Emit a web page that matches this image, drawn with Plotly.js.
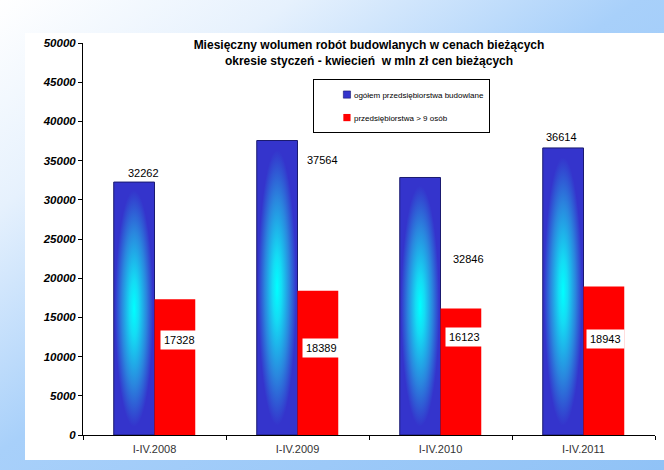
<!DOCTYPE html>
<html>
<head>
<meta charset="utf-8">
<script src="https://cdn.plot.ly/plotly-3.0.1.min.js"></script>
<style>
  html, body { margin: 0; padding: 0; }
  body {
    width: 664px; height: 470px; overflow: hidden; position: relative;
    background: linear-gradient(to bottom right, #ffffff 0%, #e6f1fd 22%, #a8d0fa 48%, #90c2f6 100%);
  }
  #chart { position: absolute; left: 25px; top: 33px; width: 639px; height: 427px; background: #ffffff; }
</style>
</head>
<body>
<div id="chart"></div>
<script>
// ---- data ----
const categories = ['I-IV.2008', 'I-IV.2009', 'I-IV.2010', 'I-IV.2011'];
const totalValues = [32262, 37564, 32846, 36614];   // ogółem przedsiębiorstwa budowlane
const largeValues = [17328, 18389, 16123, 18943];   // przedsiębiorstwa > 9 osób
const seriesNames = ['ogółem przedsiębiorstwa budowlane', 'przedsiębiorstwa > 9 osób'];
const yTicks = [0, 5000, 10000, 15000, 20000, 25000, 30000, 35000, 40000, 45000, 50000];
const titleText = 'Miesięczny wolumen robót budowlanych w cenach bieżących<br>okresie styczeń - kwiecień  w mln zł cen bieżących';

// ---- label placement (style, pixel offsets from category centre / bar top) ----
const totalLabelShift = [[-11, 9], [24.5, -19], [27.5, -82], [-22, 11]];
const largeLabelShift = [[24.5, -41], [23.5, -57], [24, -28.5], [21.5, -52.5]];

const FONT = 'Liberation Sans, Arial, sans-serif';

const traces = [
  {
    type: 'bar', name: seriesNames[0], x: categories, y: totalValues,
    legendgroup: 'a',
    marker: { color: '#3535cc', line: { color: '#1a1a70', width: 1 } },
    hoverinfo: 'none'
  },
  {
    type: 'bar', name: seriesNames[1], x: categories, y: largeValues,
    legendgroup: 'b',
    marker: { color: '#ff0000', line: { color: '#ff0000', width: 0 } },
    hoverinfo: 'none'
  }
];

const annotations = [];
categories.forEach((c, i) => {
  annotations.push({
    x: c, y: totalValues[i], xref: 'x', yref: 'y', text: String(totalValues[i]),
    showarrow: false, xanchor: 'center', yanchor: 'middle',
    xshift: totalLabelShift[i][0], yshift: totalLabelShift[i][1],
    font: { family: FONT, size: 11, color: '#000000' }
  });
  annotations.push({
    x: c, y: largeValues[i], xref: 'x', yref: 'y', text: String(largeValues[i]),
    showarrow: false, xanchor: 'center', yanchor: 'middle',
    xshift: largeLabelShift[i][0], yshift: largeLabelShift[i][1],
    bgcolor: '#ffffff', borderpad: 3,
    font: { family: FONT, size: 11, color: '#000000' }
  });
});

const layout = {
  width: 639, height: 427,
  margin: { l: 58, r: 9, t: 10, b: 25, pad: 0 },
  paper_bgcolor: '#ffffff', plot_bgcolor: '#ffffff',
  font: { family: FONT, color: '#000000' },
  title: {
    text: titleText,
    font: { family: FONT, size: 12, weight: 'bold', color: '#000000' },
    x: 0.5, xref: 'paper', xanchor: 'center',
    y: 0.962, yref: 'container', yanchor: 'top'
  },
  barmode: 'group', bargap: 0.43, bargroupgap: 0,
  showlegend: true,
  legend: {
    x: 0.402, y: 0.908, xanchor: 'left', yanchor: 'top',
    bgcolor: '#ffffff', bordercolor: '#000000', borderwidth: 1,
    font: { family: FONT, size: 8, color: '#000000' },
    traceorder: 'grouped', tracegroupgap: 4
  },
  xaxis: {
    type: 'category', showline: true, linecolor: '#000000', linewidth: 1,
    ticks: 'outside', tickson: 'boundaries', ticklen: 4, tickcolor: '#000000',
    showgrid: false, zeroline: false, ticklabelstandoff: 4,
    tickfont: { family: FONT, size: 11, color: '#333333' },
    automargin: false
  },
  yaxis: {
    range: [0, 50000], tickmode: 'array', tickvals: yTicks, ticktext: yTicks.map(String),
    showline: true, linecolor: '#000000', linewidth: 1,
    ticks: 'outside', ticklen: 4, tickcolor: '#000000',
    showgrid: false, zeroline: false,
    tickfont: { family: FONT, size: 11.5, weight: 'bold', style: 'italic', color: '#000000' },
    automargin: false
  },
  annotations: annotations
};

Plotly.newPlot('chart', traces, layout, { displayModeBar: false, staticPlot: true }).then(gd => {
  // apply the "from centre" gradient look to the first series' bars
  const svg = gd.querySelector('svg.main-svg');
  const ns = 'http://www.w3.org/2000/svg';
  let defs = svg.querySelector('defs');
  if (!defs) { defs = document.createElementNS(ns, 'defs'); svg.insertBefore(defs, svg.firstChild); }
  const g = document.createElementNS(ns, 'radialGradient');
  g.setAttribute('id', 'blueCentreGrad');
  g.setAttribute('cx', '0.5'); g.setAttribute('cy', '0.5'); g.setAttribute('r', '0.55');
  [['0', '#00ffff'], ['0.2', '#14dcf4'], ['0.55', '#2a86de'], ['0.85', '#3434cc'], ['1', '#3434cc']].forEach(([o, c]) => {
    const s = document.createElementNS(ns, 'stop');
    s.setAttribute('offset', o); s.setAttribute('stop-color', c);
    g.appendChild(s);
  });
  defs.appendChild(g);
  const barTraces = gd.querySelectorAll('.barlayer .trace');
  if (barTraces[0]) {
    barTraces[0].querySelectorAll('path').forEach(p => { p.style.fill = 'url(#blueCentreGrad)'; });
  }
  gd.querySelectorAll('.legend .legendpoints path').forEach((p, i) => {
    const t = p.getAttribute('transform') || '';
    p.setAttribute('transform', (t + ' translate(13,0) scale(0.6)').trim());
    if (i === 0) { p.style.fill = '#3434cc'; p.style.stroke = '#1a1a70'; }
  });
});
</script>
</body>
</html>
